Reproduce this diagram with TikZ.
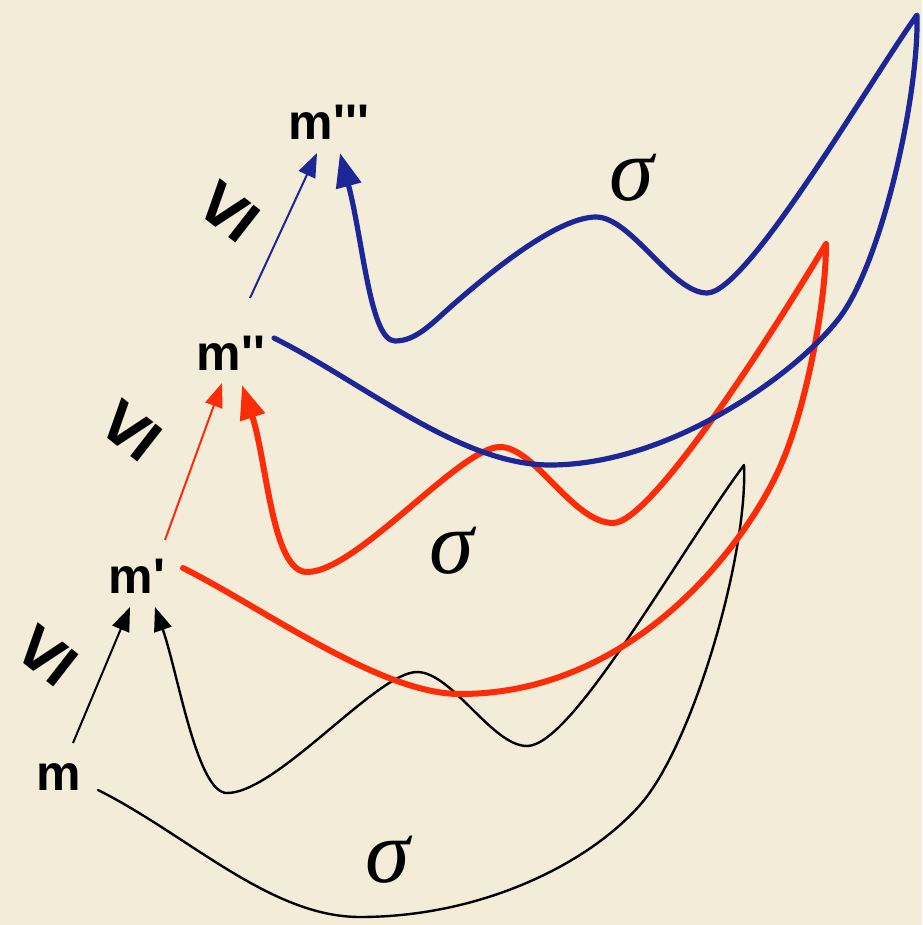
\documentclass[tikz,border=0pt]{standalone}
\usepackage{fontspec}
\newfontfamily\lblfont{Liberation Sans}
\newfontfamily\sigfont{Liberation Serif}
\usepackage{xcolor}
\definecolor{paper}{RGB}{242,236,216}
\definecolor{sigred}{RGB}{252,44,8}
\definecolor{sigblue}{RGB}{28,38,150}
\usepackage{tikz}
\usetikzlibrary{arrows.meta}
\tikzset{
  lbl/.style={font=\lblfont\bfseries\fontsize{25}{30}\selectfont,inner sep=0pt,anchor=base},
  sig/.style={font=\sigfont\itshape\fontsize{45}{50}\selectfont,inner sep=0pt},
  leq/.style={font=\lblfont\bfseries\fontsize{41}{48}\selectfont,inner sep=0pt,rotate=52},
  thinarr/.style={-{Triangle[length=12pt,width=9pt]},line width=1pt},
  wave/.style={-{Triangle[length=12pt,width=9pt]},line width=1.2pt,line join=round,line cap=round},
  bigwave/.style={-{Triangle[length=17pt,width=12.5pt]},line width=2.8pt,line join=round,line cap=round},
}
\begin{document}
\begin{tikzpicture}[x=0.5pt,y=-0.5pt]
  \useasboundingbox (0,0) rectangle (922,925);
  \fill[paper] (0,0) rectangle (922,925);
  % states
  \node[lbl] (m) at (59,790) {m};
  \node[lbl] (m1) at (137,593) {m\textquotesingle};
  \node[lbl] (m2) at (231,370) {m\textquotesingle\textquotesingle};
  \node[lbl] (m3) at (329,140) {m\textquotesingle\textquotesingle\textquotesingle};
  \node[leq] (le1) at (46,655) {≤};
  \node[leq] (le2) at (130,430) {≤};
  \node[leq] (le3) at (228,211) {≤};
  \node[sig] (s1) at (388,860) {σ};
  \node[sig] (s2) at (452,551) {σ};
  \node[sig] (s3) at (632,178) {σ};
  % order arrows
  \draw[thinarr] ([shift={(14,-47)}]m.base) -- ([shift={(-7,14)}]m1.base);
  \draw[thinarr,sigred] ([shift={(28,-53)}]m1.base) -- ([shift={(-9,13)}]m2.base);
  \draw[thinarr,sigblue] ([shift={(19,-72)}]m2.base) -- ([shift={(-12,13)}]m3.base);
  % sigma paths
  \draw[wave] ([shift={(39,0)}]m.base)
    .. controls +(90,45) and +(-90,0) .. (360,917)
    .. controls +(120,0) and +(-53,60) .. (640,805)
    .. controls +(53,-60) and +(4,90) .. (744,465)
    .. controls +(-70,95) and +(45,0) .. (527,746)
    .. controls +(-35,0) and +(35,0) .. (417,672)
    .. controls +(-40,0) and +(50,0) .. (227,793)
    .. controls +(-30,0) and +(23,66) .. ([shift={(18,14)}]m1.base);
  \draw[bigwave,sigred,line width=3pt] ([shift={(46,-25)}]m1.base)
    .. controls +(80,40) and +(-80,0) .. (460,694)
    .. controls +(180,0) and +(-30,74) .. (783,460)
    .. controls +(23,-55) and +(0,60) .. (826,244)
    .. controls +(-45,75) and +(40,0) .. (613,523)
    .. controls +(-40,0) and +(35,0) .. (500,447)
    .. controls +(-40,0) and +(50,0) .. (307,572)
    .. controls +(-35,0) and +(25,76) .. ([shift={(11,15)}]m2.base);
  \draw[bigwave,sigblue,line width=2.6pt] ([shift={(43,-32)}]m2.base)
    .. controls +(90,45) and +(-90,0) .. (550,465)
    .. controls +(120,0) and +(-42,56) .. (840,317)
    .. controls +(42,-56) and +(2,80) .. (917,15)
    .. controls +(-50,70) and +(40,0) .. (707,293)
    .. controls +(-35,0) and +(35,0) .. (596,217)
    .. controls +(-40,0) and +(30,-26) .. (455,303)
    .. controls +(-22,19) and +(22,0) .. (395,341)
    .. controls +(-25,0) and +(23,87) .. ([shift={(11,13)}]m3.base);
\end{tikzpicture}
\end{document}
